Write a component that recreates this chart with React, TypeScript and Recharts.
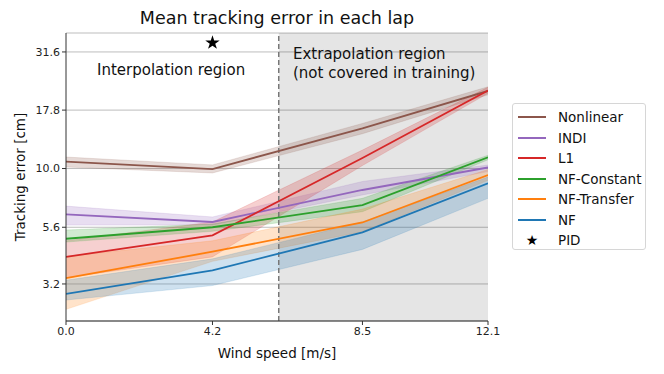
import React from 'react';
import {
  ComposedChart, Line, Area, Scatter, XAxis, YAxis, CartesianGrid,
  ReferenceArea, ReferenceLine, Label,
} from 'recharts';

// wind speeds [m/s]
const windSpeeds = [0, 4.2, 8.5, 12.1];

// mean tracking error [cm] and band edges, one value per wind speed
const nonlinear = [10.7, 9.95, 14.85, 21.5];
const nonlinearLo = [10.15, 9.57, 14.1, 20.7];
const nonlinearHi = [11.2, 10.36, 15.6, 22.4];

const indi = [6.36, 5.9, 8.09, 10.1];
const indiLo = [5.72, 5.72, 7.7, 9.7];
const indiHi = [6.9, 6.2, 8.8, 10.35];

const l1 = [4.18, 5.17, 11.1, 21.6];
const l1Lo = [3.4, 4.18, 10.3, 21.0];
const l1Hi = [4.9, 5.9, 12.0, 22.3];

const nfConstant = [5.0, 5.6, 6.97, 11.17];
const nfConstantLo = [4.84, 5.38, 6.53, 10.9];
const nfConstantHi = [5.45, 5.78, 7.45, 11.4];

const nfTransfer = [3.39, 4.4, 5.87, 9.38];
const nfTransferLo = [2.49, 4.0, 5.36, 8.9];
const nfTransferHi = [4.2, 4.9, 6.7, 9.9];

const nf = [2.9, 3.66, 5.32, 8.64];
const nfLo = [2.73, 3.15, 4.5, 7.45];
const nfHi = [3.32, 4.1, 5.9, 9.2];

const pid = [{ x: 4.2, y: 34.6 }];

const yTicks = [3.2, 5.6, 10.0, 17.8, 31.6];
const xTicks = [0, 4.2, 8.5, 12.1];
const trainingLimit = 6.1;

const series = [
  { key: 'nonlinear', name: 'Nonlinear', color: '#8c564b', mean: nonlinear, lo: nonlinearLo, hi: nonlinearHi },
  { key: 'indi', name: 'INDI', color: '#9467bd', mean: indi, lo: indiLo, hi: indiHi },
  { key: 'l1', name: 'L1', color: '#d62728', mean: l1, lo: l1Lo, hi: l1Hi },
  { key: 'nfc', name: 'NF-Constant', color: '#2ca02c', mean: nfConstant, lo: nfConstantLo, hi: nfConstantHi },
  { key: 'nft', name: 'NF-Transfer', color: '#ff7f0e', mean: nfTransfer, lo: nfTransferLo, hi: nfTransferHi },
  { key: 'nf', name: 'NF', color: '#1f77b4', mean: nf, lo: nfLo, hi: nfHi },
];

const rows = windSpeeds.map((x, i) => {
  const r: any = { x };
  series.forEach((s) => {
    r[s.key] = s.mean[i];
    r[s.key + 'Band'] = [s.lo[i], s.hi[i]];
  });
  return r;
});

const font = '"DejaVu Sans", sans-serif';
const tickStyle = { fontSize: 11, fill: '#222', fontFamily: font };

const App: React.FC = () => {
  return (
    <div style={{ position: 'absolute', left: 0, top: 0, width: 664, height: 374, background: '#fff', fontFamily: font }}>
      <div style={{ position: 'absolute', left: 66, width: 422, top: 8, textAlign: 'center', fontSize: 17.5, color: '#111' }}>
        Mean tracking error in each lap
      </div>
      <ComposedChart
        width={664}
        height={374}
        data={rows}
        margin={{ top: 33, right: 176, left: 0, bottom: 0 }}
      >
        <CartesianGrid vertical={false} stroke="#bdbdbd" strokeWidth={1} />
        <ReferenceArea x1={trainingLimit} x2={12.1} y1={2.22} y2={38.1} fill="#000" fillOpacity={0.1} stroke="none" ifOverflow="hidden" />
        <ReferenceLine x={trainingLimit} stroke="#777" strokeWidth={1.5} strokeDasharray="5 3" />
        <XAxis
          dataKey="x"
          type="number"
          domain={[0, 12.1]}
          ticks={xTicks}
          tickFormatter={(v) => v.toFixed(1)}
          tick={tickStyle}
          tickSize={4}
          height={53}
          stroke="#333"
          allowDataOverflow
        >
          <Label value="Wind speed [m/s]" position="insideBottom" offset={16} fontSize={13.5} fill="#111" fontFamily={font} />
        </XAxis>
        <XAxis xAxisId="top" orientation="top" type="number" domain={[0, 12.1]} tick={false} tickLine={false} height={0} stroke="#333" />
        <YAxis
          type="number"
          scale="log"
          domain={[2.22, 38.1]}
          ticks={yTicks}
          tickFormatter={(v) => v.toFixed(1)}
          tick={tickStyle}
          tickSize={4}
          width={66}
          stroke="#333"
          allowDataOverflow
        >
          <Label value="Tracking error [cm]" angle={-90} position="insideLeft" offset={20} fontSize={13.5} fill="#111" fontFamily={font} style={{ textAnchor: 'middle' }} />
        </YAxis>
        <YAxis yAxisId="right" orientation="right" tick={false} tickLine={false} width={0} stroke="#333" />
        {series.map((s) => (
          <Area
            key={s.key + 'Band'}
            dataKey={s.key + 'Band'}
            type="linear"
            fill={s.color}
            fillOpacity={0.22}
            stroke={s.color}
            strokeOpacity={0.15}
            isAnimationActive={false}
          />
        ))}
        {series.map((s) => (
          <Line
            key={s.key}
            dataKey={s.key}
            type="linear"
            stroke={s.color}
            strokeWidth={1.8}
            dot={false}
            activeDot={false}
            isAnimationActive={false}
          />
        ))}
        <Scatter data={pid} dataKey="y" shape="star" fill="#000" isAnimationActive={false} />
      </ComposedChart>
      <div style={{ position: 'absolute', left: 97, top: 61, fontSize: 15, color: '#111' }}>Interpolation region</div>
      <div style={{ position: 'absolute', left: 293, top: 45, fontSize: 15, color: '#111', lineHeight: '19px' }}>
        Extrapolation region<br />(not covered in training)
      </div>
      <div style={{ position: 'absolute', left: 512, top: 103, width: 134, height: 147, border: '1px solid #d6d6d6', borderRadius: 3, boxSizing: 'border-box', background: '#fff' }}>
        {series.map((s, i) => (
          <div key={s.key} style={{ position: 'absolute', left: 5, top: 3 + i * 20.5, height: 20, display: 'flex', alignItems: 'center' }}>
            <div style={{ width: 28, height: 2, background: s.color }} />
            <span style={{ marginLeft: 12, fontSize: 13.5, color: '#111' }}>{s.name}</span>
          </div>
        ))}
        <div style={{ position: 'absolute', left: 5, top: 3 + 6 * 20.5, height: 20, display: 'flex', alignItems: 'center' }}>
          <div style={{ width: 28, textAlign: 'center', fontSize: 14 }}>★</div>
          <span style={{ marginLeft: 12, fontSize: 13.5, color: '#111' }}>PID</span>
        </div>
      </div>
    </div>
  );
};

export default App;
